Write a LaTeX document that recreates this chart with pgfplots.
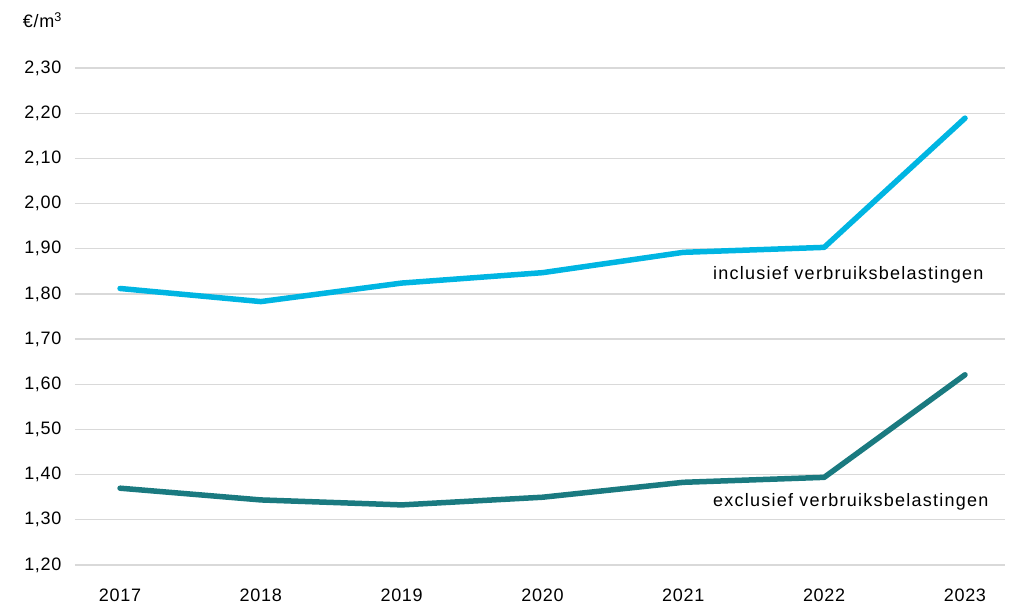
\documentclass[border=0pt]{standalone}
\usepackage{fontspec}
\setmainfont{Liberation Sans}[LetterSpace=4]
\newfontfamily\labelfont{Liberation Sans}[LetterSpace=7]
\usepackage{pgfplots}
\pgfplotsset{compat=1.18}
\definecolor{lichtblauw}{HTML}{00B5E2}
\definecolor{petrol}{HTML}{1A7A80}
\definecolor{raster}{HTML}{D9D9D9}

\begin{document}
\begin{tikzpicture}
\begin{axis}[
    scale only axis,
    width=930pt, height=497pt,
    xmin=2016.68, xmax=2023.284,
    ymin=1.2, ymax=2.3,
    ytick={1.2,1.3,...,2.31},
    xtick={2017,...,2023},
    axis line style={draw=none},
    major tick length=0pt,
    ymajorgrids,
    grid style={raster, line width=1.2pt},
    font=\fontsize{18}{21}\selectfont,
    /pgf/number format/assume math mode=true,
    yticklabel style={
        /pgf/number format/use comma,
        /pgf/number format/fixed,
        /pgf/number format/fixed zerofill,
        /pgf/number format/precision=2,
        xshift=-10pt},
    xticklabel style={/pgf/number format/1000 sep={}, yshift=-20pt},
    clip=false,
]
\addplot[lichtblauw, line width=5.5pt, line cap=round, line join=round]
    coordinates {(2017,1.812) (2018,1.783) (2019,1.824) (2020,1.847) (2021,1.892) (2022,1.903) (2023,2.189)};
\addplot[petrol, line width=5.5pt, line cap=round, line join=round]
    coordinates {(2017,1.370) (2018,1.344) (2019,1.333) (2020,1.350) (2021,1.383) (2022,1.394) (2023,1.621)};
\node[anchor=west, inner sep=0pt, font=\labelfont\fontsize{18}{21}\selectfont] at (axis cs:2021.21,1.842) {inclusief verbruiksbelastingen};
\node[anchor=west, inner sep=0pt, font=\labelfont\fontsize{18}{21}\selectfont] at (axis cs:2021.21,1.339) {exclusief verbruiksbelastingen};
\node[anchor=east, inner sep=0pt, font=\fontsize{18}{21}\selectfont] at ([xshift=-13pt, yshift=48pt]rel axis cs:0,1) {€/m\textsuperscript{3}};
\end{axis}
\path (current axis.south west) ++(-75pt,-40pt) coordinate (bl);
\path (current axis.north east) ++(4pt,68pt) coordinate (tr);
\useasboundingbox (bl) rectangle (tr);
\end{tikzpicture}
\end{document}
